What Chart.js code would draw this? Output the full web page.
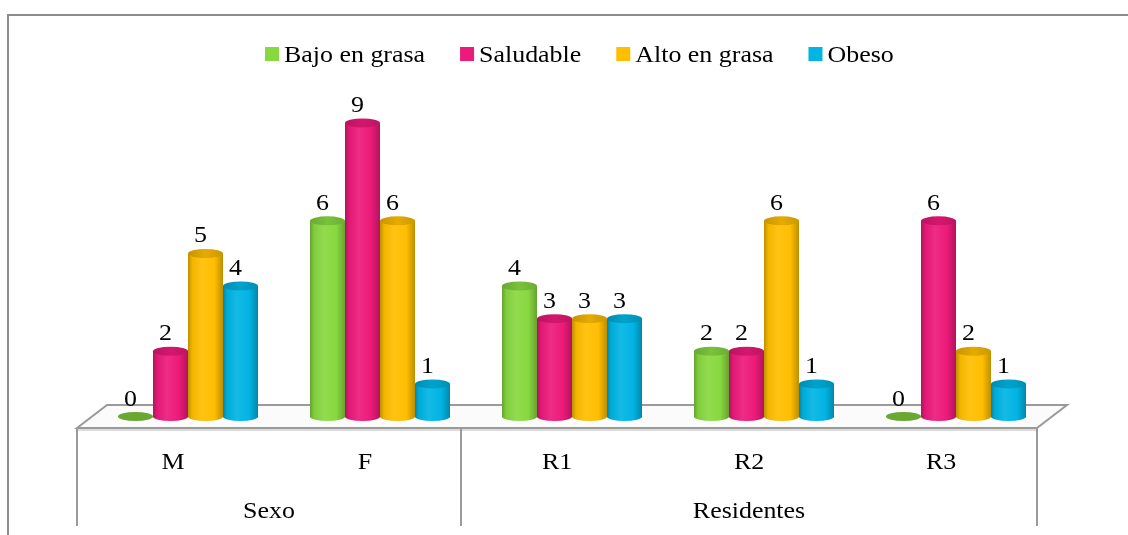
<!DOCTYPE html>
<html>
<head>
<meta charset="utf-8">
<script src="https://cdn.jsdelivr.net/npm/chart.js@4.4.1/dist/chart.umd.min.js"></script>
<style>
  html, body { margin: 0; padding: 0; background: #fff; }
  canvas { display: block; }
</style>
</head>
<body>
<canvas id="chart" width="1128" height="535"></canvas>
<script>
const CATEGORIES = ['M', 'F', 'R1', 'R2', 'R3'];
const GROUPS = ['Sexo', 'Residentes'];
const GROUP_SIZES = [2, 3];

const SERIES = ['Bajo en grasa', 'Saludable', 'Alto en grasa', 'Obeso'];
const BAJO = [0, 6, 4, 2, 0];
const SALUDABLE = [2, 9, 3, 2, 6];
const ALTO = [5, 6, 3, 6, 2];
const OBESO = [4, 1, 3, 1, 1];

const COLORS = ['#88D840', '#EC1A7A', '#FFBE00', '#00B4E4'];

const FONT = '24px "Liberation Serif", "Times New Roman", serif';
const STRETCH = 1.08;   // text is a bit wide
const DEPTH_X = 30;
const DEPTH_Y = 23;
const RY = 4.5;
const LINE = '#9a9a9a';

// mix a hex colour toward black (amt < 0) or white (amt > 0)
function shade(hex, amt) {
  const n = parseInt(hex.slice(1), 16);
  let r = n >> 16, g = (n >> 8) & 255, b = n & 255;
  const t = amt < 0 ? 0 : 255;
  const p = Math.abs(amt);
  r = Math.round(r + (t - r) * p);
  g = Math.round(g + (t - g) * p);
  b = Math.round(b + (t - b) * p);
  return `rgb(${r},${g},${b})`;
}

function wideText(ctx, text, x, y, align) {
  ctx.save();
  ctx.translate(x, y);
  ctx.scale(STRETCH, 1);
  ctx.textAlign = align || 'center';
  ctx.textBaseline = 'alphabetic';
  ctx.fillText(text, 0, 0);
  ctx.restore();
}

// floor, category axis and frame
const floorAxis = {
  id: 'floorAxis',
  beforeDatasetsDraw(chart) {
    const { ctx, chartArea, scales } = chart;
    const base = scales.y.getPixelForValue(0);
    const fy = base + DEPTH_Y / 2, by = base - DEPTH_Y / 2;
    const fl = chartArea.left - DEPTH_X / 2, fr = chartArea.right - DEPTH_X / 2;
    const bl = chartArea.left + DEPTH_X / 2, br = chartArea.right + DEPTH_X / 2;
    ctx.save();

    // outer frame
    ctx.strokeStyle = '#8c8c8c';
    ctx.lineWidth = 2;
    ctx.beginPath();
    ctx.moveTo(8, 540);
    ctx.lineTo(8, 15);
    ctx.lineTo(1130, 15);
    ctx.stroke();

    // floor
    ctx.beginPath();
    ctx.moveTo(fl, fy);
    ctx.lineTo(bl, by);
    ctx.lineTo(br, by);
    ctx.lineTo(fr, fy);
    ctx.closePath();
    ctx.fillStyle = '#fbfbfb';
    ctx.fill();
    ctx.strokeStyle = LINE;
    ctx.lineWidth = 2;
    ctx.stroke();
    ctx.strokeStyle = '#dcdcdc';
    ctx.beginPath();
    ctx.moveTo(fl, fy + 2);
    ctx.lineTo(fr, fy + 2);
    ctx.stroke();

    // group dividers
    const step = (chartArea.right - chartArea.left) / CATEGORIES.length;
    const bounds = [fl];
    let n = 0;
    GROUP_SIZES.forEach((s) => { n += s; bounds.push(fl + n * step); });
    ctx.strokeStyle = LINE;
    ctx.lineWidth = 2;
    bounds.forEach((x) => {
      ctx.beginPath();
      ctx.moveTo(Math.round(x), fy);
      ctx.lineTo(Math.round(x), 526);
      ctx.stroke();
    });

    // labels
    ctx.fillStyle = '#000';
    ctx.font = FONT;
    CATEGORIES.forEach((c, i) => {
      wideText(ctx, c, scales.x.getPixelForValue(i) - DEPTH_X / 2, fy + 41);
    });
    GROUPS.forEach((g, i) => {
      wideText(ctx, g, (bounds[i] + bounds[i + 1]) / 2, fy + 90);
    });
    ctx.restore();
  }
};

// cylinders with value labels
const cylinders = {
  id: 'cylinders',
  afterDatasetsDraw(chart) {
    const { ctx } = chart;
    ctx.save();
    chart.data.datasets.forEach((ds, di) => {
      const meta = chart.getDatasetMeta(di);
      const col = COLORS[di];
      meta.data.forEach((bar, i) => {
        const { x, y, base, width } = bar.getProps(['x', 'y', 'base', 'width']);
        const l = x - width / 2, r = x + width / 2, rx = width / 2;
        const v = ds.data[i];
        if (v > 0) {
          const g = ctx.createLinearGradient(l, 0, r, 0);
          g.addColorStop(0, shade(col, -0.25));
          g.addColorStop(0.12, shade(col, -0.05));
          g.addColorStop(0.4, shade(col, 0.08));
          g.addColorStop(0.75, col);
          g.addColorStop(1, shade(col, -0.25));
          ctx.beginPath();
          ctx.moveTo(l, y);
          ctx.lineTo(l, base);
          ctx.ellipse(x, base, rx, RY, 0, Math.PI, 0, true);
          ctx.lineTo(r, y);
          ctx.closePath();
          ctx.fillStyle = g;
          ctx.fill();

          const tg = ctx.createLinearGradient(l, 0, r, 0);
          tg.addColorStop(0, shade(col, -0.22));
          tg.addColorStop(0.5, shade(col, -0.1));
          tg.addColorStop(1, shade(col, -0.2));
          ctx.beginPath();
          ctx.ellipse(x, y, rx, RY, 0, 0, Math.PI * 2);
          ctx.fillStyle = tg;
          ctx.fill();
        } else {
          ctx.beginPath();
          ctx.ellipse(x, base, rx, RY, 0, 0, Math.PI * 2);
          ctx.fillStyle = shade(col, -0.22);
          ctx.fill();
        }
        ctx.fillStyle = '#000';
        ctx.font = FONT;
        wideText(ctx, String(v), x - 5, y - 11);
      });
    });
    ctx.restore();
  }
};

// legend row
const legendRow = {
  id: 'legendRow',
  afterDraw(chart) {
    const { ctx } = chart;
    ctx.save();
    ctx.font = FONT;
    let x = 265;
    chart.data.datasets.forEach((ds, i) => {
      ctx.fillStyle = COLORS[i];
      ctx.fillRect(x, 47, 14, 14);
      x += 19;
      ctx.fillStyle = '#000';
      wideText(ctx, ds.label, x, 62, 'left');
      x += ctx.measureText(ds.label).width * STRETCH + 35;
    });
    ctx.restore();
  }
};

const seriesData = [BAJO, SALUDABLE, ALTO, OBESO];

new Chart(document.getElementById('chart'), {
  type: 'bar',
  data: {
    labels: CATEGORIES,
    datasets: SERIES.map((label, i) => ({
      label,
      data: seriesData[i],
      backgroundColor: 'rgba(0,0,0,0)',
      borderWidth: 0,
      categoryPercentage: 140 / 192,
      barPercentage: 1
    }))
  },
  options: {
    responsive: false,
    animation: false,
    devicePixelRatio: 1,
    layout: { padding: { left: 92, right: 76, top: 123, bottom: 118.5 } },
    plugins: {
      legend: { display: false },
      tooltip: { enabled: false }
    },
    scales: {
      x: { display: false },
      y: { display: false, min: 0, max: 9 }
    }
  },
  plugins: [floorAxis, cylinders, legendRow]
});
</script>
</body>
</html>
